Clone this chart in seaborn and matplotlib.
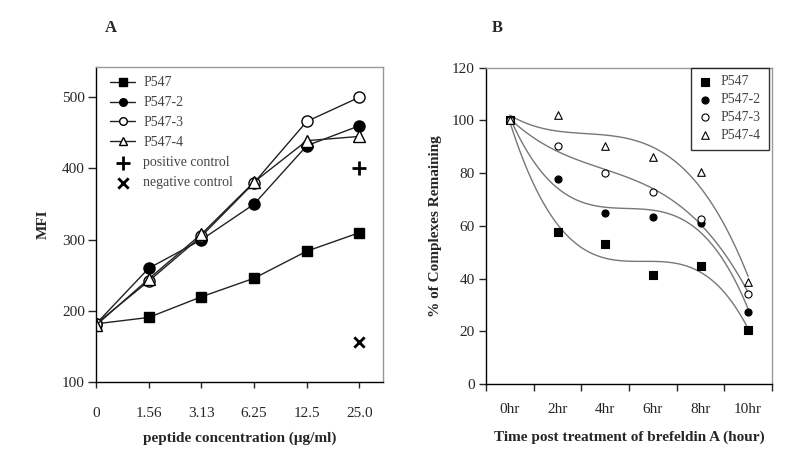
import numpy as np
import matplotlib
matplotlib.use("Agg")
import matplotlib.pyplot as plt
from matplotlib.lines import Line2D
import seaborn as sns

# Panel A: MFI vs peptide concentration
conc_labels = ["0", "1.56", "3.13", "6.25", "12.5", "25.0"]
a_p547 = [182, 191, 220, 246, 284, 310]
a_p547_2 = [182, 260, 300, 350, 432, 460]
a_p547_3 = [182, 242, 305, 380, 466, 500]
a_p547_4 = [180, 245, 308, 381, 439, 445]
pos_control = 401
neg_control = 157

# Panel B: % of complexes remaining over time
time_labels = ["0hr", "2hr", "4hr", "6hr", "8hr", "10hr"]
b_p547 = [100, 57.8, 53.0, 41.5, 44.8, 20.5]
b_p547_2 = [100, 77.6, 65.0, 63.5, 61.0, 27.3]
b_p547_3 = [100, 90.3, 80.0, 72.8, 62.6, 34.1]
b_p547_4 = [100, 102.0, 90.3, 86.0, 80.4, 38.8]

series_names = ["P547", "P547-2", "P547-3", "P547-4"]
markers = ["s", "o", "o", "^"]
faces = ["black", "black", "white", "white"]

sns.set_style("ticks")
plt.rcParams["font.family"] = ["Liberation Serif", "DejaVu Serif"]

fig = plt.figure(figsize=(8, 4.72), dpi=100)
ax_a = fig.add_axes([0.12, 0.19, 0.359, 0.669])
ax_b = fig.add_axes([0.6075, 0.1864, 0.3575, 0.6702])

# ---- Panel A ----
x = np.arange(len(conc_labels))
for name, vals, m, fc in zip(series_names, [a_p547, a_p547_2, a_p547_3, a_p547_4], markers, faces):
    sns.lineplot(x=x, y=vals, ax=ax_a, color="#222222", lw=1.0, marker=m,
                 markersize=8 if m != "s" else 7.5, markerfacecolor=fc,
                 markeredgecolor="black", markeredgewidth=1.0, label=name)
sns.scatterplot(x=[x[-1]], y=[pos_control], ax=ax_a, marker="+", s=110,
                color="black", linewidth=2, label="positive control")
sns.scatterplot(x=[x[-1]], y=[neg_control], ax=ax_a, marker="x", s=55,
                color="black", linewidth=2, label="negative control")

ax_a.set_xlim(0, 5.45)
ax_a.set_ylim(100, 543)
ax_a.set_xticks(x)
ax_a.set_xticklabels(conc_labels)
ax_a.set_yticks([100, 200, 300, 400, 500])
ax_a.tick_params(axis="x", length=4, width=1, pad=14, labelsize=11)
ax_a.tick_params(axis="y", length=6, width=1, pad=2, labelsize=11)
ax_a.set_xlabel("peptide concentration (\u03bcg/ml)", fontsize=11, fontweight="bold", labelpad=8)
ax_a.set_ylabel("MFI", fontsize=11, fontweight="bold", labelpad=9)
handles, labels = ax_a.get_legend_handles_labels()
leg_a = ax_a.legend(handles, labels, loc="upper left", bbox_to_anchor=(0.02, 0.995), frameon=False,
                    fontsize=10, labelcolor="#444444", handlelength=1.8, handletextpad=0.6,
                    labelspacing=0.5, borderaxespad=0.2)
for h in leg_a.legend_handles:
    if isinstance(h, Line2D):
        h.set_markersize(5.5)

# ---- Panel B ----
xb = np.arange(len(time_labels))
for name, vals, m, fc in zip(series_names, [b_p547, b_p547_2, b_p547_3, b_p547_4], markers, faces):
    sns.regplot(x=xb, y=vals, ax=ax_b, order=3, ci=None, marker=m, color="black",
                scatter_kws=dict(s=26 if m != "^" else 30, facecolors=fc, edgecolors="black",
                                 linewidths=0.8, alpha=1, zorder=3),
                line_kws=dict(color="#777777", lw=1.0), label=name)

ax_b.set_xlim(-0.5, 5.5)
ax_b.set_ylim(0, 120)
ax_b.set_xticks(xb)
ax_b.set_xticklabels(time_labels)
ax_b.set_xticks(np.arange(-0.5, 6, 1.0), minor=True)
ax_b.set_yticks(np.arange(0, 121, 20))
ax_b.tick_params(axis="x", which="major", length=0, pad=14, labelsize=11)
ax_b.tick_params(axis="x", which="minor", length=5, width=1)
ax_b.tick_params(axis="y", length=5, width=1, pad=3, labelsize=11)
ax_b.set_xlabel("Time post treatment of brefeldin A (hour)", fontsize=11, fontweight="bold", labelpad=10)
ax_b.set_ylabel("% of Complexes Remaining", fontsize=11, fontweight="bold", labelpad=7)
leg = ax_b.legend(loc="upper right", bbox_to_anchor=(0.988, 1.0), frameon=True, fancybox=False,
                  fontsize=10, labelcolor="#444444", handlelength=0.9, handletextpad=0.7,
                  labelspacing=0.35, borderpad=0.55, borderaxespad=0.0, edgecolor="black")
leg.get_frame().set_linewidth(1.0)

for ax in (ax_a, ax_b):
    for side in ("left", "bottom"):
        ax.spines[side].set_color("black")
        ax.spines[side].set_linewidth(1.0)
    for side in ("top", "right"):
        ax.spines[side].set_visible(True)
        ax.spines[side].set_color("#999999")
        ax.spines[side].set_linewidth(1.0)
    ax.grid(False)

fig.text(111 / 800, 1 - 28 / 472, "A", fontsize=12, fontweight="bold", ha="center", va="center")
fig.text(497 / 800, 1 - 28 / 472, "B", fontsize=12, fontweight="bold", ha="center", va="center")

fig.savefig("out.png", dpi=100, facecolor="white")
